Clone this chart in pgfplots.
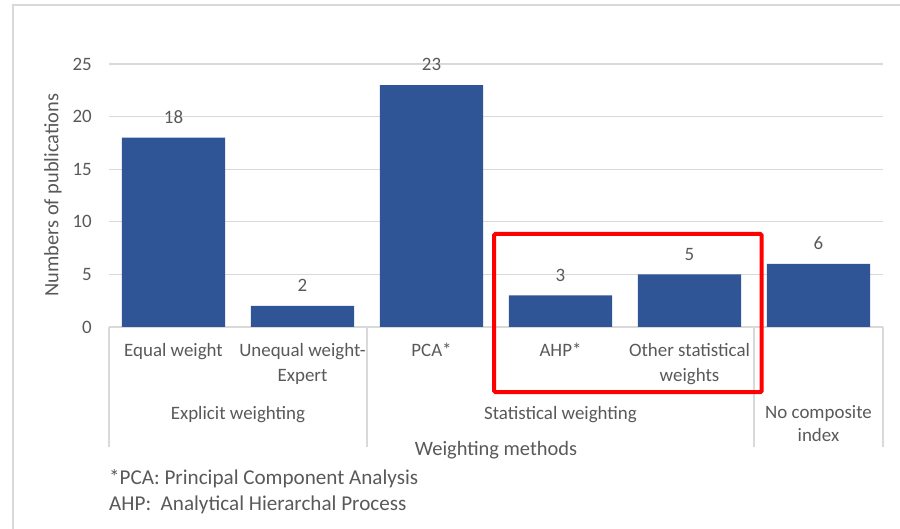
\documentclass[border=0pt]{standalone}
\usepackage{pgfplots}
\pgfplotsset{compat=1.18}
\usepackage{fontspec}
\setmainfont{Carlito}
\definecolor{barblue}{HTML}{2F5597}
\definecolor{txtgray}{HTML}{595959}
\definecolor{gridgray}{HTML}{D9D9D9}
\begin{document}
\begin{tikzpicture}[
  lab/.style={font=\fontsize{19}{23}\selectfont, text=txtgray, inner sep=0pt, anchor=base},
  big/.style={font=\fontsize{20.5}{24}\selectfont, text=txtgray, inner sep=0pt},
  note/.style={font=\fontsize{21.2}{25}\selectfont, text=txtgray, inner sep=0pt, anchor=base west}]
\useasboundingbox (0bp,0bp) rectangle (900bp,529bp);
% chart frame
\draw[gridgray, line width=1.5bp] (13bp,0bp) -- (13bp,524bp) -- (900bp,524bp);
\begin{axis}[
  at={(109bp,202bp)}, anchor=south west,
  scale only axis, width=774bp, height=263bp,
  xmin=-0.5, xmax=5.5, ymin=0, ymax=25,
  ytick={0,5,...,25}, xtick=\empty,
  ymajorgrids, grid style={gridgray, line width=1.3bp},
  axis line style={draw=none}, major tick length=0pt,
  clip=false,
  ybar, bar width=0.8,
  /pgf/number format/assume math mode=true,
  yticklabel style={font=\fontsize{19}{23}\selectfont, text=txtgray, inner sep=0pt, xshift=-17bp},
  nodes near coords,
  nodes near coords style={font=\fontsize{19}{23}\selectfont, text=txtgray, inner sep=0pt, anchor=south, yshift=14bp},
]
\addplot[fill=barblue, draw=none] coordinates {(0,18) (1,2) (2,23) (3,3) (4,5) (5,6)};

% group separators
\pgfplotsinvokeforeach{-0.5,1.5,4.5,5.5}{
  \draw[gridgray, line width=1.3bp] (axis cs:#1,0) -- ++(0bp,-120bp);
}

% category labels
\node[lab] at ([yshift=-30bp]axis cs:0,0) {Equal weight};
\node[lab] at ([yshift=-30bp]axis cs:1,0) {Unequal weight-};
\node[lab] at ([yshift=-54bp]axis cs:1,0) {Expert};
\node[lab] at ([yshift=-30bp]axis cs:2,0) {PCA*};
\node[lab] at ([yshift=-30bp]axis cs:3,0) {AHP*};
\node[lab] at ([yshift=-30bp]axis cs:4,0) {Other statistical};
\node[lab] at ([yshift=-54bp]axis cs:4,0) {weights};

% group labels
\node[lab] at ([yshift=-92bp]axis cs:0.5,0) {Explicit weighting};
\node[lab] at ([yshift=-92bp]axis cs:3,0) {Statistical weighting};
\node[lab] at ([yshift=-91bp]axis cs:5,0) {No composite};
\node[lab] at ([yshift=-114bp]axis cs:5,0) {index};

% highlight box
\draw[red, line width=4bp, rounded corners=1.5bp] (axis cs:2.485,8.85) rectangle (axis cs:4.56,-6.2);
\end{axis}
\node[big, rotate=90] at (53bp,334bp) {Numbers of publications};
\node[big, anchor=base] at (496bp,73bp) {Weighting methods};
\node[note] at (109bp,44bp) {*PCA: Principal Component Analysis};
\node[note] at (109bp,19bp) {AHP:\ \ Analytical Hierarchal Process};
\end{tikzpicture}
\end{document}
